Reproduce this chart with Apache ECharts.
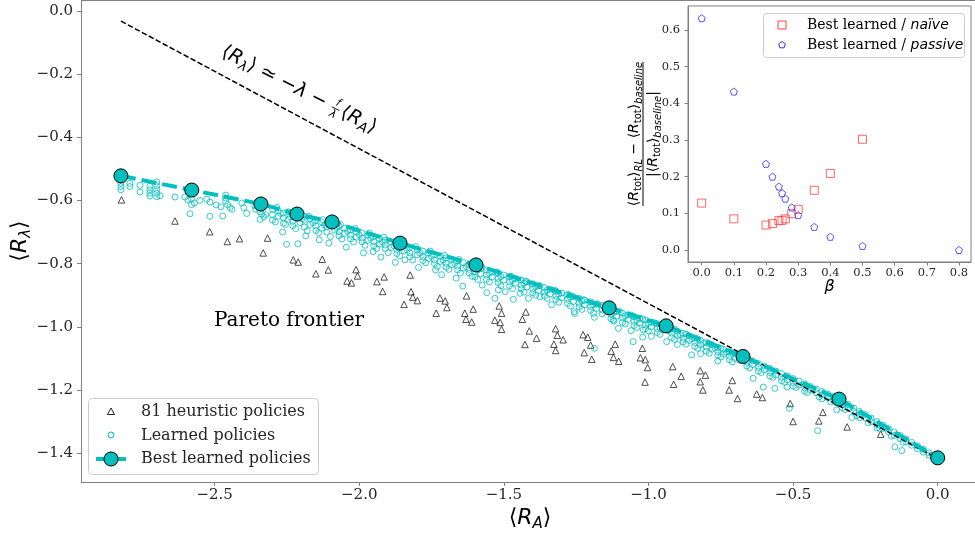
<!DOCTYPE html>
<html style="height: 100%">
<head>
    <meta charset="utf-8">
    <script src="https://cdn.jsdelivr.net/npm/echarts@6/dist/echarts.min.js"></script>
    <title>Pareto frontier</title>
</head>
<body style="height: 100%; margin: 0; background: #fff">
<div id="container" style="width: 975px; height: 540px"></div>
<script type="text/javascript">
    // 81 heuristic policies  [<R_A>, <R_lambda>]
    const heuristic = [
        [-2.822,-0.598],[-2.637,-0.665],[-2.517,-0.699],[-2.456,-0.730],[-2.414,-0.721],[-2.317,-0.719],[-2.332,-0.766],[-2.228,-0.788],[-2.211,-0.795],[-2.128,-0.786],
        [-2.150,-0.832],[-2.107,-0.820],[-2.011,-0.819],[-2.006,-0.839],[-2.042,-0.855],[-2.027,-0.861],[-1.939,-0.857],[-1.914,-0.842],[-1.919,-0.888],[-1.824,-0.836],
        [-1.821,-0.889],[-1.815,-0.906],[-1.799,-0.917],[-1.845,-0.929],[-1.721,-0.909],[-1.703,-0.918],[-1.697,-0.939],[-1.734,-0.957],[-1.629,-0.902],[-1.606,-0.944],
        [-1.635,-0.957],[-1.631,-0.976],[-1.611,-0.985],[-1.516,-0.934],[-1.508,-0.957],[-1.531,-0.979],[-1.513,-0.986],[-1.508,-1.008],[-1.424,-0.953],[-1.436,-0.976],
        [-1.412,-1.013],[-1.387,-1.036],[-1.427,-1.056],[-1.321,-1.006],[-1.315,-1.027],[-1.295,-1.041],[-1.327,-1.055],[-1.321,-1.075],[-1.226,-1.025],[-1.210,-1.033],
        [-1.200,-1.058],[-1.222,-1.082],[-1.196,-1.103],[-1.115,-1.055],[-1.129,-1.077],[-1.121,-1.097],[-1.103,-1.109],[-1.021,-1.068],[-1.028,-1.098],[-1.011,-1.104],
        [-1.003,-1.129],[-1.012,-1.175],[-0.916,-1.126],[-0.887,-1.157],[-0.913,-1.182],[-0.821,-1.139],[-0.803,-1.153],[-0.821,-1.174],[-0.812,-1.200],[-0.710,-1.170],
        [-0.721,-1.200],[-0.692,-1.227],[-0.626,-1.213],[-0.606,-1.224],[-0.510,-1.243],[-0.500,-1.300],[-0.397,-1.271],[-0.411,-1.298],[-0.313,-1.317],[-0.197,-1.340]
    ];

    // learned policies
    const learned = [
        [-2.824,-0.535],[-2.824,-0.545],[-2.824,-0.556],[-2.824,-0.566],[-2.793,-0.546],[-2.793,-0.556],[-2.758,-0.552],[-2.758,-0.573],
        [-2.724,-0.555],[-2.724,-0.566],[-2.724,-0.577],[-2.724,-0.586],[-2.700,-0.541],[-2.700,-0.553],[-2.700,-0.565],[-2.700,-0.577],[-2.700,-0.588],
        [-2.689,-0.585],[-2.637,-0.589],[-2.603,-0.589],[-2.592,-0.598],[-2.580,-0.595],[-2.570,-0.608],[-2.580,-0.613],
        [-2.551,-0.600],[-2.527,-0.596],[-2.516,-0.605],[-2.585,-0.642],[-2.516,-0.650],[-2.472,-0.649],
        [-2.495,-0.614],[-2.478,-0.620],[-2.462,-0.583],[-2.462,-0.592],[-2.462,-0.602],[-2.455,-0.613],[-2.447,-0.622],[-2.440,-0.628],
        [-2.406,-0.608],[-2.399,-0.623],[-2.389,-0.641],[-2.361,-0.617],[-2.358,-0.628],[-2.344,-0.635],[-2.337,-0.643],[-2.323,-0.645],
        [-2.330,-0.652],[-2.343,-0.622],[-2.343,-0.660],[-2.251,-0.739],[-2.212,-0.737],[-2.138,-0.725],
        [-2.300,-0.628],[-2.300,-0.645],[-2.300,-0.662],[-2.280,-0.633],[-2.280,-0.650],[-2.262,-0.640],[-2.262,-0.655],[-2.262,-0.672],
        [-2.245,-0.636],[-2.245,-0.660],[-2.230,-0.648],[-2.230,-0.666],[-2.230,-0.680],[-2.205,-0.652],[-2.205,-0.670],
        [-2.190,-0.650],[-2.190,-0.662],[-2.190,-0.684],[-2.170,-0.658],[-2.170,-0.676],[-2.150,-0.663],[-2.150,-0.681],[-2.150,-0.695],
        [-2.130,-0.668],[-2.130,-0.688],[-2.112,-0.672],[-2.112,-0.684],[-2.112,-0.700],[-2.085,-0.676],[-2.085,-0.694],
        [-2.070,-0.680],[-2.070,-0.699],[-2.070,-0.712],[-2.050,-0.688],[-2.050,-0.704],[-2.030,-0.693],[-2.030,-0.710],[-2.030,-0.722],
        [-2.010,-0.699],[-2.010,-0.716],[-1.990,-0.703],[-1.990,-0.719],[-1.990,-0.731],[-1.970,-0.709],[-1.970,-0.726],
        [-1.950,-0.714],[-1.950,-0.730],[-1.950,-0.744],[-1.930,-0.720],[-1.930,-0.738],[-1.910,-0.726],[-1.910,-0.741],[-1.910,-0.752],
        [-1.890,-0.731],[-1.890,-0.749],[-1.870,-0.738],[-1.870,-0.755],[-1.870,-0.768],[-1.845,-0.744],[-1.845,-0.760],
        [-1.825,-0.749],[-1.825,-0.766],[-1.825,-0.778],[-1.800,-0.756],[-1.800,-0.772],[-1.780,-0.760],[-1.780,-0.778],[-1.780,-0.790],
        [-1.760,-0.766],[-1.760,-0.784],[-1.740,-0.771],[-1.740,-0.788],[-1.740,-0.800],[-1.720,-0.776],[-1.720,-0.793],
        [-1.700,-0.782],[-1.700,-0.799],[-1.700,-0.811],[-1.680,-0.786],[-1.680,-0.804],[-1.660,-0.792],[-1.660,-0.808],[-1.660,-0.820],
        [-1.640,-0.797],[-1.640,-0.814],[-1.620,-0.802],[-1.620,-0.818],[-1.620,-0.830],
        [-1.952,-0.762],[-1.842,-0.788],[-1.736,-0.820],[-1.642,-0.871],
        [-2.290,-0.668],[-2.255,-0.676],[-2.220,-0.689],[-2.180,-0.696],[-2.140,-0.702],[-2.100,-0.714],[-2.060,-0.722],[-2.020,-0.731],
        [-1.980,-0.742],[-1.940,-0.752],[-1.900,-0.765],[-1.860,-0.775],[-1.815,-0.788],[-1.770,-0.797],[-1.730,-0.809],[-1.690,-0.818],
        [-1.650,-0.830],[-1.610,-0.840],
        [-2.272,-0.641],[-2.238,-0.652],[-2.198,-0.658],[-2.160,-0.670],[-2.120,-0.678],[-2.078,-0.688],[-2.040,-0.698],[-2.000,-0.709],
        [-1.960,-0.720],[-1.920,-0.731],[-1.880,-0.743],[-1.835,-0.756],[-1.790,-0.767],[-1.750,-0.777],[-1.710,-0.789],[-1.670,-0.799],[-1.630,-0.809],
        [-2.265,-0.700],[-2.185,-0.712],[-2.105,-0.735],[-2.045,-0.748],[-1.985,-0.766],[-1.925,-0.779],[-1.875,-0.796],[-1.795,-0.812],
        [-1.715,-0.835],[-1.665,-0.846],
        [-2.285,-0.622],[-2.235,-0.638],[-2.175,-0.650],[-2.125,-0.661],[-2.065,-0.676],[-2.015,-0.689],[-1.965,-0.703],[-1.915,-0.716],
        [-1.855,-0.731],[-1.805,-0.746],[-1.755,-0.760],[-1.705,-0.774],[-1.655,-0.787],
        [-1.600,-0.810],[-1.600,-0.826],[-1.600,-0.842],[-1.580,-0.815],[-1.580,-0.832],[-1.560,-0.820],[-1.560,-0.836],[-1.560,-0.850],
        [-1.540,-0.826],[-1.540,-0.842],[-1.520,-0.830],[-1.520,-0.847],[-1.520,-0.860],[-1.500,-0.836],[-1.500,-0.852],
        [-1.480,-0.842],[-1.480,-0.858],[-1.480,-0.870],[-1.460,-0.847],[-1.460,-0.862],[-1.440,-0.852],[-1.440,-0.868],[-1.440,-0.880],
        [-1.420,-0.858],[-1.420,-0.874],[-1.400,-0.864],[-1.400,-0.880],[-1.400,-0.892],[-1.380,-0.870],[-1.380,-0.885],
        [-1.360,-0.876],[-1.360,-0.890],[-1.360,-0.903],[-1.340,-0.881],[-1.340,-0.896],[-1.320,-0.887],[-1.320,-0.902],[-1.320,-0.914],
        [-1.300,-0.893],[-1.300,-0.908],[-1.280,-0.898],[-1.280,-0.913],[-1.280,-0.926],[-1.260,-0.904],[-1.260,-0.920],
        [-1.240,-0.910],[-1.240,-0.925],[-1.240,-0.937],[-1.220,-0.916],[-1.220,-0.930],[-1.200,-0.921],[-1.200,-0.936],[-1.200,-0.948],
        [-1.180,-0.927],[-1.180,-0.942],[-1.160,-0.932],[-1.160,-0.947],[-1.160,-0.959],
        [-1.559,-0.892],[-1.519,-0.883],[-1.531,-0.910],[-1.467,-0.913],[-1.444,-0.894],[-1.375,-0.905],[-1.257,-0.952],[-1.187,-0.970],
        [-1.122,-0.978],[-1.104,-1.005],[-1.187,-1.068],
        [-1.590,-0.850],[-1.550,-0.858],[-1.510,-0.870],[-1.470,-0.879],[-1.430,-0.890],[-1.390,-0.900],[-1.350,-0.910],[-1.310,-0.922],
        [-1.270,-0.934],[-1.230,-0.945],[-1.190,-0.957],
        [-1.590,-0.820],[-1.550,-0.830],[-1.510,-0.841],[-1.470,-0.852],[-1.430,-0.862],[-1.390,-0.873],[-1.350,-0.884],[-1.310,-0.896],
        [-1.270,-0.906],[-1.230,-0.918],[-1.190,-0.930],[-1.150,-0.941],
        [-1.575,-0.812],[-1.525,-0.826],[-1.475,-0.840],[-1.425,-0.855],[-1.375,-0.870],[-1.325,-0.884],[-1.275,-0.899],[-1.225,-0.914],[-1.175,-0.929],
        [-1.575,-0.868],[-1.495,-0.889],[-1.415,-0.910],[-1.335,-0.930],[-1.255,-0.958],
        [-1.130,-0.946],[-1.130,-0.960],[-1.130,-0.975],[-1.110,-0.951],[-1.110,-0.966],[-1.090,-0.957],[-1.090,-0.972],[-1.090,-0.986],
        [-1.070,-0.962],[-1.070,-0.977],[-1.050,-0.968],[-1.050,-0.983],[-1.050,-0.996],[-1.030,-0.973],[-1.030,-0.988],
        [-1.010,-0.979],[-1.010,-0.994],[-1.010,-1.006],[-0.990,-0.985],[-0.990,-1.000],[-0.970,-0.990],[-0.970,-1.005],[-0.970,-1.018],
        [-0.950,-0.996],[-0.950,-1.010],[-0.920,-1.006],[-0.920,-1.020],[-0.920,-1.034],[-0.900,-1.014],[-0.900,-1.028],
        [-0.880,-1.021],[-0.880,-1.036],[-0.880,-1.048],[-0.860,-1.028],[-0.860,-1.043],[-0.840,-1.035],[-0.840,-1.050],[-0.840,-1.062],
        [-0.820,-1.043],[-0.820,-1.057],[-0.800,-1.050],[-0.800,-1.064],[-0.800,-1.077],[-0.780,-1.057],[-0.780,-1.071],
        [-0.760,-1.065],[-0.760,-1.079],[-0.760,-1.090],[-0.740,-1.072],[-0.740,-1.086],[-0.720,-1.079],[-0.720,-1.093],[-0.720,-1.104],
        [-0.700,-1.086],[-0.700,-1.100],[-0.685,-1.092],[-0.685,-1.106],
        [-1.120,-0.982],[-1.080,-0.991],[-1.040,-1.002],[-1.000,-1.013],[-0.960,-1.024],[-0.910,-1.040],[-0.870,-1.055],[-0.830,-1.068],
        [-0.790,-1.084],[-0.750,-1.096],[-0.710,-1.111],
        [-1.120,-0.955],[-1.080,-0.966],[-1.040,-0.978],[-1.000,-0.989],[-0.960,-1.000],[-0.930,-1.012],[-0.890,-1.025],[-0.850,-1.038],
        [-0.810,-1.052],[-0.770,-1.066],[-0.730,-1.080],
        [-1.100,-0.952],[-1.060,-0.963],[-1.020,-0.975],[-0.980,-0.987],[-0.910,-1.008],[-0.870,-1.023],[-0.830,-1.038],[-0.790,-1.053],
        [-0.750,-1.068],[-0.710,-1.083],
        [-1.060,-1.012],[-0.990,-1.030],[-0.900,-1.056],[-0.820,-1.085],[-0.760,-1.108],
        [-1.053,-1.047],[-1.020,-1.033],[-1.018,-1.010],[-0.937,-1.047],[-0.851,-1.089],[-0.638,-1.163],[-0.603,-1.191],[-0.563,-1.195],
        [-0.660,-1.100],[-0.660,-1.112],[-0.660,-1.124],[-0.640,-1.108],[-0.640,-1.120],[-0.620,-1.116],[-0.620,-1.128],[-0.620,-1.140],
        [-0.600,-1.124],[-0.600,-1.136],[-0.580,-1.132],[-0.580,-1.145],[-0.580,-1.156],[-0.560,-1.140],[-0.560,-1.152],
        [-0.540,-1.148],[-0.540,-1.160],[-0.540,-1.171],[-0.520,-1.156],[-0.520,-1.168],[-0.500,-1.164],[-0.500,-1.176],[-0.500,-1.188],
        [-0.480,-1.172],[-0.480,-1.184],[-0.460,-1.181],[-0.460,-1.193],[-0.460,-1.204],[-0.440,-1.189],[-0.440,-1.200],
        [-0.420,-1.197],[-0.420,-1.209],[-0.400,-1.205],[-0.400,-1.216],[-0.400,-1.228],[-0.380,-1.213],[-0.380,-1.224],
        [-0.360,-1.221],[-0.360,-1.233],[-0.330,-1.236],[-0.330,-1.246],[-0.330,-1.256],[-0.310,-1.246],[-0.310,-1.257],
        [-0.290,-1.257],[-0.290,-1.268],[-0.270,-1.268],[-0.270,-1.278],[-0.270,-1.288],[-0.250,-1.278],[-0.250,-1.289],
        [-0.230,-1.289],[-0.230,-1.300],[-0.210,-1.300],[-0.210,-1.310],[-0.210,-1.320],[-0.190,-1.311],[-0.190,-1.322],
        [-0.170,-1.322],[-0.170,-1.333],[-0.150,-1.333],[-0.150,-1.344],[-0.130,-1.344],[-0.130,-1.354],[-0.110,-1.355],[-0.110,-1.364],
        [-0.090,-1.366],[-0.090,-1.375],[-0.070,-1.377],[-0.070,-1.386],[-0.050,-1.388],[-0.050,-1.397],[-0.030,-1.399],[-0.030,-1.406],[-0.015,-1.407],
        [-0.650,-1.130],[-0.610,-1.145],[-0.570,-1.160],[-0.530,-1.176],[-0.490,-1.192],[-0.450,-1.208],[-0.410,-1.222],[-0.370,-1.238],
        [-0.320,-1.262],[-0.280,-1.282],[-0.240,-1.304],[-0.200,-1.322],[-0.160,-1.346],[-0.120,-1.366],
        [-0.513,-1.258],[-0.415,-1.329],[-0.148,-1.380],[-0.124,-1.392],[-0.521,-1.191],[-0.349,-1.263],[-0.297,-1.287]
    ];

    // best learned policies (Pareto frontier)
    const bestLearned = [
        [-2.824,-0.522],[-2.579,-0.567],[-2.340,-0.611],[-2.215,-0.643],[-2.094,-0.668],[-1.859,-0.735],
        [-1.596,-0.804],[-1.136,-0.940],[-0.939,-0.997],[-0.673,-1.094],[-0.341,-1.229],[0.000,-1.415]
    ];

    // <R_lambda> ~ -lambda - f/lambda <R_A>
    const boundLine = [[-2.824,-0.032],[0.000,-1.417]];

    // inset: relative improvement vs beta
    const betaNaive = [0.0, 0.1, 0.2, 0.22, 0.24, 0.25, 0.26, 0.28, 0.3, 0.35, 0.4, 0.5];
    const naiveGain = [0.128, 0.085, 0.068, 0.072, 0.080, 0.081, 0.085, 0.099, 0.111, 0.163, 0.209, 0.302];
    const betaPassive = [0.0, 0.1, 0.2, 0.22, 0.24, 0.25, 0.26, 0.28, 0.3, 0.35, 0.4, 0.5, 0.8];
    const passiveGain = [0.632, 0.432, 0.235, 0.200, 0.173, 0.155, 0.140, 0.116, 0.095, 0.063, 0.036, 0.011, 0.000];

    const xTicks = [-2.5, -2.0, -1.5, -1.0, -0.5, 0.0];
    const yTicks = [0.0, -0.2, -0.4, -0.6, -0.8, -1.0, -1.2, -1.4];
    const insetXTicks = [0.0, 0.1, 0.2, 0.3, 0.4, 0.5, 0.6, 0.7, 0.8];
    const insetYTicks = [0.0, 0.1, 0.2, 0.3, 0.4, 0.5, 0.6];

    const CYAN = '#00bfbf';
    const SPINE = '#808080';
    const TXT = '#262626';
    const fmt = v => v.toFixed(1).replace('-', '\u2212');

    // text measuring for the hand built math labels
    const meas = document.createElement('canvas').getContext('2d');
    function tw(t, size, italic, fam) {
        meas.font = (italic ? 'italic ' : '') + size + 'px ' + fam;
        return meas.measureText(t).width;
    }
    // pieces: [text, size, italic, dy]  or {frac: [num, den], size}
    function mathRow(pieces, fam) {
        let x = 0;
        const kids = [];
        pieces.forEach(p => {
            if (p.frac) {
                const wn = tw(p.frac[0], p.size, true, fam), wd = tw(p.frac[1], p.size, true, fam);
                const w = Math.max(wn, wd) + 3;
                kids.push({type: 'text', x: x + w / 2, y: -p.size * 0.55, style: {text: p.frac[0], fontSize: p.size, fontStyle: 'italic', fontFamily: fam, fill: '#000', align: 'center', verticalAlign: 'middle'}});
                kids.push({type: 'text', x: x + w / 2, y: p.size * 0.6, style: {text: p.frac[1], fontSize: p.size, fontStyle: 'italic', fontFamily: fam, fill: '#000', align: 'center', verticalAlign: 'middle'}});
                kids.push({type: 'line', shape: {x1: x + 0.5, y1: 0, x2: x + w - 0.5, y2: 0}, style: {stroke: '#000', lineWidth: 0.8}});
                x += w + 2;
                return;
            }
            const [t, size, italic, dy] = p;
            kids.push({type: 'text', x: x, y: dy || 0, style: {text: t, fontSize: size, fontStyle: italic ? 'italic' : 'normal', fontFamily: fam, fill: '#000', align: 'left', verticalAlign: 'middle'}});
            x += tw(t, size, italic, fam);
        });
        return {kids, width: x};
    }
    function mathLabel(pieces, cx, cy, rot) {
        const r = mathRow(pieces, 'DejaVu Sans');
        r.kids.forEach(k => {
            if (k.type === 'line') { k.shape.x1 -= r.width / 2; k.shape.x2 -= r.width / 2; } else k.x -= r.width / 2;
        });
        return {type: 'group', x: cx, y: cy, rotation: rot, children: r.kids};
    }
    function fracLabel(num, den, cx, cy, rot) {
        const a = mathRow(num, 'DejaVu Sans'), b = mathRow(den, 'DejaVu Sans');
        const w = Math.max(a.width, b.width);
        a.kids.forEach(k => { k.x -= a.width / 2; k.y -= 9; });
        b.kids.forEach(k => { k.x -= b.width / 2; k.y += 10; });
        const bar = {type: 'line', shape: {x1: -w / 2, y1: 0, x2: w / 2, y2: 0}, style: {stroke: '#000', lineWidth: 1}};
        return {type: 'group', x: cx, y: cy, rotation: rot, children: a.kids.concat(b.kids, [bar])};
    }

    const S = 22, s = 15;
    const xName = mathLabel([['\u27E8', S], ['R', S, true], ['A', s, true, 6], ['\u27E9', S]], 530, 518, 0);
    const yName = mathLabel([['\u27E8', S], ['R', S, true], ['\u03BB', s, true, 6], ['\u27E9', S]], 20, 241, Math.PI / 2);
    const A = 19.5, a = 13.5;
    const note = mathLabel([
        ['\u27E8', A], ['R', A, true], ['\u03BB', a, true, 5], ['\u27E9', A], [' \u2243 ', A], ['\u2212', A], ['\u03BB', A, true], [' \u2212 ', A],
        {frac: ['f', '\u03BB'], size: 11},
        ['\u27E8', A], ['R', A, true], ['A', a, true, 5], ['\u27E9', A]
    ], 299, 90, -27 * Math.PI / 180);
    const T = 14, t = 10;
    const insetName = fracLabel(
        [['\u27E8', T], ['R', T, true], ['tot', t, false, 4], ['\u27E9', T], ['RL', t, true, 5], [' \u2212 ', T],
         ['\u27E8', T], ['R', T, true], ['tot', t, false, 4], ['\u27E9', T], ['baseline', t, true, 5]],
        [['|\u27E8', T], ['R', T, true], ['tot', t, false, 4], ['\u27E9', T], ['baseline', t, true, 5], ['|', T]],
        643, 134, Math.PI / 2);

    const pentagon = 'path://M0,-1 L0.951,-0.309 L0.588,0.809 L-0.588,0.809 L-0.951,-0.309 Z';

    const LF = 16;
    const legendItems = [
        // top spine of the main axes
        {type: 'line', shape: {x1: 81, y1: 0.5, x2: 975, y2: 0.5}, style: {stroke: SPINE, lineWidth: 1}},
        {type: 'rect', shape: {x: 88.5, y: 398.5, width: 230, height: 76, r: 4}, style: {fill: 'rgba(255,255,255,0.8)', stroke: '#cccccc', lineWidth: 1}},
        {type: 'polygon', shape: {points: [[111, 408], [114.5, 414.5], [107.5, 414.5]]}, style: {fill: 'none', stroke: '#222', lineWidth: 1}},
        {type: 'circle', shape: {cx: 111, cy: 435, r: 3}, style: {fill: 'none', stroke: CYAN, lineWidth: 1}},
        {type: 'line', shape: {x1: 96, y1: 459, x2: 126, y2: 459}, style: {stroke: CYAN, lineWidth: 4}},
        {type: 'circle', shape: {cx: 111, cy: 459, r: 7}, style: {fill: CYAN, stroke: '#000', lineWidth: 1}},
        {type: 'text', x: 141, y: 412, style: {text: '81 heuristic policies', fontFamily: 'DejaVu Serif', fontSize: LF, fill: TXT, verticalAlign: 'middle'}},
        {type: 'text', x: 141, y: 435.5, style: {text: 'Learned policies', fontFamily: 'DejaVu Serif', fontSize: LF, fill: TXT, verticalAlign: 'middle'}},
        {type: 'text', x: 141, y: 459, style: {text: 'Best learned policies', fontFamily: 'DejaVu Serif', fontSize: LF, fill: TXT, verticalAlign: 'middle'}},
        // inset legend
        {type: 'rect', shape: {x: 763.5, y: 13.5, width: 201, height: 44, r: 3}, style: {fill: 'rgba(255,255,255,0.8)', stroke: '#cccccc', lineWidth: 1}, z: 10},
        {type: 'rect', shape: {x: 778, y: 21, width: 8, height: 8}, style: {fill: 'none', stroke: '#ff4040', lineWidth: 1}, z: 10},
        {type: 'polygon', shape: {points: [[782, 41.5], [785.3, 43.9], [784.1, 47.8], [779.9, 47.8], [778.7, 43.9]]}, style: {fill: 'none', stroke: '#3030ff', lineWidth: 1}, z: 10},
        {type: 'text', x: 807, y: 25, z: 10, style: {text: '{a|Best learned / }{b|na\u00EFve}', verticalAlign: 'middle', rich: {
            a: {fontFamily: 'DejaVu Serif', fontSize: 14, color: TXT}, b: {fontFamily: 'DejaVu Sans', fontStyle: 'italic', fontSize: 14, color: TXT}}}},
        {type: 'text', x: 807, y: 45, z: 10, style: {text: '{a|Best learned / }{b|passive}', verticalAlign: 'middle', rich: {
            a: {fontFamily: 'DejaVu Serif', fontSize: 14, color: TXT}, b: {fontFamily: 'DejaVu Sans', fontStyle: 'italic', fontSize: 14, color: TXT}}}},
        {type: 'text', x: 214, y: 321, style: {text: 'Pareto frontier', fontFamily: 'DejaVu Serif', fontSize: 20, fill: '#000', verticalAlign: 'middle'}},
        {type: 'text', x: 829.5, y: 287, style: {text: '\u03B2', fontFamily: 'DejaVu Sans', fontStyle: 'italic', fontSize: 16, fill: '#000', align: 'center', verticalAlign: 'middle'}},
        xName, yName, note, insetName
    ];

    function valueAxis(idx, min, max, ticks, fontSize, margin, tickLen) {
        return {
            type: 'value', gridIndex: idx, min: min, max: max, scale: true,
            axisLine: {show: true, onZero: false, lineStyle: {color: SPINE, width: 1}},
            axisTick: {show: true, customValues: ticks, length: tickLen, lineStyle: {color: SPINE}},
            axisLabel: {customValues: ticks, formatter: fmt, fontFamily: 'DejaVu Serif', fontSize: fontSize, color: TXT, margin: margin},
            splitLine: {show: false}
        };
    }

    const chart = echarts.init(document.getElementById('container'), null, {renderer: 'canvas'});
    chart.setOption({
        animation: false,
        backgroundColor: '#ffffff',
        grid: [
            {left: 81, top: 1, right: 0, height: 481, show: false},
            {left: 688, top: 6, width: 283, height: 256, show: true, borderColor: SPINE, borderWidth: 1, backgroundColor: '#ffffff', z: 5}
        ],
        xAxis: [
            valueAxis(0, -2.962, 0.129, xTicks, 15, 6, 4),
            Object.assign(valueAxis(1, -0.0426, 0.8374, insetXTicks, 11.5, 5, 3.5), {z: 6})
        ],
        yAxis: [
            valueAxis(0, -1.4915, 0.0317, yTicks, 15, 8, 4),
            Object.assign(valueAxis(1, -0.0327, 0.6654, insetYTicks, 11.5, 8, 3.5), {z: 6})
        ],
        series: [
            {
                name: '81 heuristic policies', type: 'scatter', data: heuristic, symbol: 'triangle', symbolSize: 6.5, silent: true,
                itemStyle: {color: 'rgba(0,0,0,0)', borderColor: '#222', borderWidth: 1}, z: 2
            },
            {
                name: 'Learned policies', type: 'scatter', data: learned, symbol: 'circle', symbolSize: 6, silent: true,
                itemStyle: {color: 'rgba(0,0,0,0)', borderColor: CYAN, borderWidth: 1}, z: 3
            },
            {
                type: 'line', data: boundLine, symbol: 'none', silent: true,
                lineStyle: {color: '#000', width: 1.5, type: [5.5, 2.4]}, z: 4
            },
            {
                name: 'Best learned policies', type: 'line', data: bestLearned, symbol: 'circle', symbolSize: 14, showSymbol: true, silent: true,
                lineStyle: {color: CYAN, width: 4, type: [15, 6]},
                itemStyle: {color: CYAN, borderColor: '#000', borderWidth: 1}, z: 5
            },
            {
                name: 'Best learned / naïve', type: 'scatter', xAxisIndex: 1, yAxisIndex: 1, silent: true,
                data: betaNaive.map((b, i) => [b, naiveGain[i]]), symbol: 'rect', symbolSize: 8,
                itemStyle: {color: 'rgba(0,0,0,0)', borderColor: '#ff4040', borderWidth: 1}, z: 7
            },
            {
                name: 'Best learned / passive', type: 'scatter', xAxisIndex: 1, yAxisIndex: 1, silent: true,
                data: betaPassive.map((b, i) => [b, passiveGain[i]]), symbol: pentagon, symbolSize: 7,
                itemStyle: {color: 'rgba(0,0,0,0)', borderColor: '#3030ff', borderWidth: 1}, z: 7
            }
        ],
        graphic: legendItems
    });
</script>
</body>
</html>
